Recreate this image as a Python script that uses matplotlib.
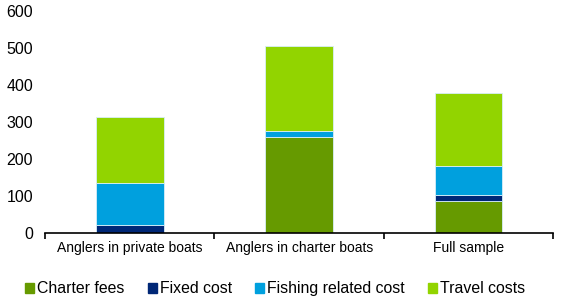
import matplotlib.pyplot as plt
from matplotlib.patches import Patch

plt.rcParams['font.family'] = ['Liberation Sans', 'DejaVu Sans']

# data
groups = ['Anglers in private boats', 'Anglers in charter boats', 'Full sample']
charter_fees = [0, 261, 86]
fixed_cost = [21, 0, 16]
fishing_cost = [114, 16, 80]
travel_costs = [179, 229, 196]

series = [('Charter fees', charter_fees, '#669A00'),
          ('Fixed cost', fixed_cost, '#002776'),
          ('Fishing related cost', fishing_cost, '#00A0DE'),
          ('Travel costs', travel_costs, '#92D400')]

fig = plt.figure(figsize=(5.66, 3.0), dpi=100)
ax = fig.add_axes([0.0795, 0.223, 0.898, 0.740])

x = list(range(len(groups)))
bottom = [0] * len(groups)
for name, vals, col in series:
    ax.bar(x, vals, 0.4, bottom=bottom, color=col, edgecolor='#d8eef8', linewidth=0.6)
    bottom = [b + v for b, v in zip(bottom, vals)]

ax.set_xlim(-0.5, 2.5)
ax.set_ylim(0, 600)
ax.set_yticks(range(0, 601, 100))
ax.set_xticks(x)
ax.set_xticklabels(groups, fontsize=10)
ax.set_xticks([-0.5, 0.5, 1.5, 2.5], minor=True)
ax.tick_params(axis='x', which='major', length=0, pad=6)
ax.tick_params(axis='x', which='minor', length=4, width=1.2, direction='out')
ax.tick_params(axis='y', length=0, labelsize=11.5, pad=8.5)
for s in ['top', 'right', 'left']:
    ax.spines[s].set_visible(False)
ax.spines['bottom'].set_linewidth(1.2)

handles = [Patch(color=c, label=n) for n, v, c in series]
fig.legend(handles=handles, loc='center', bbox_to_anchor=(0.486, 0.037), ncol=4,
           frameon=False, fontsize=11.4, handlelength=0.57, handleheight=0.57,
           handletextpad=0.2, columnspacing=1.45)

fig.savefig('out.png', dpi=100)
